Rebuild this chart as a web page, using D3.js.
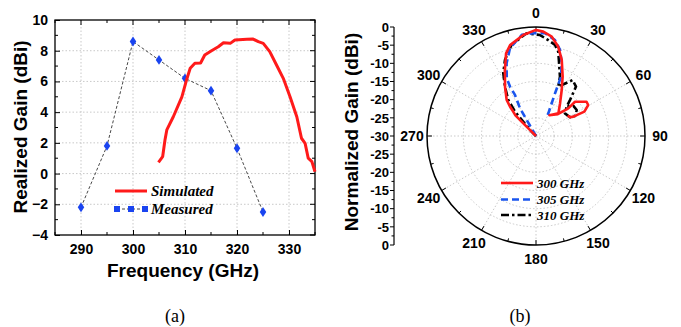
<!DOCTYPE html>
<html>
<head>
<meta charset="utf-8">
<script src="https://cdn.jsdelivr.net/npm/d3@7"></script>
<style>
  body { margin: 0; background: #fff; }
  svg { display: block; }
</style>
</head>
<body>
<div id="chart"></div>
<script>
// (a) realized gain vs frequency
const simFreq = [304.9, 305.7, 306.15, 306.5, 307.75, 309.4, 310.3, 311, 311.9, 313, 313.8, 315.1, 316.4, 317.4, 318.7, 319.6, 321.9, 323.1, 324.1, 325.05, 326.3, 327.6, 328.9, 330.2, 331.5, 332.4, 333.1, 333.7, 334.4, 335];
const simGain = [0.73, 1.1, 2.19, 2.84, 3.7, 5.0, 6.1, 6.86, 7.18, 7.2, 7.72, 8.0, 8.26, 8.52, 8.48, 8.7, 8.74, 8.76, 8.59, 8.48, 7.94, 7.07, 6.2, 5.0, 3.7, 2.3, 1.97, 1.0, 0.78, 0.12];
const measFreq = [290, 295, 300, 305, 310, 315, 320, 325];
const measGain = [-2.2, 1.8, 8.6, 7.4, 6.2, 5.4, 1.65, -2.5];
const freqTicks = [290, 300, 310, 320, 330];
const gainTicks = [-4, -2, 0, 2, 4, 6, 8, 10];

// (b) normalized radiation patterns, angle in degrees, gain in dB
const ang300 = [-45, -45, -45, -45, -43, -41.8, -39.1, -32.2, -25.2, -19.9, -15.9, -7.2, 0, 4, 9, 14, 18.7, 24.2, 29.2, 36.3, 44.5, 33, 45, 49.4, 48.7, 55.9, 59.3, 63.3, 62.6, 61.2, 57];
const gain300 = [-30, -27.7, -24.1, -22, -20.8, -19.5, -17.2, -14, -9.9, -5.8, -4.0, -2.0, -0.8, -1.2, -2.3, -4.7, -7.9, -12.1, -15.5, -18.8, -21.2, -23.2, -21.5, -18.3, -15.7, -13.2, -13.3, -15.1, -18.4, -19.3, -19.6];
const ang305 = [-30, -30, -30.2, -30, -27.1, -27.8, -26.9, -22, -16.5, -8, -1.5, 5, 11.2, 15.6, 19.5, 22.9, 24, 25.6, 28.5, 29];
const gain305 = [-30, -28.6, -24.9, -21.2, -17.3, -14.7, -12.2, -8.4, -4.8, -1.9, -1.7, -1.6, -3.1, -5.4, -8.8, -12.3, -17.1, -20, -22.9, -23.9];
const ang310 = [-45, -45, -41.6, -40.8, -37.6, -32.2, -27.5, -22.2, -15, -5.2, 2.3, 7.3, 11.8, 14.8, 17.6, 22, 24.3, 33.2, 39, 43.4, 46.3, 52, 61.2, 62.9, 57.4, 51.2, 46.3];
const gain310 = [-30, -28.3, -24.7, -21.2, -17.5, -14, -10.5, -7.4, -4.0, -1.6, -2.2, -3.4, -4.4, -6, -9, -12.4, -15.1, -11.6, -12.5, -16.4, -18.3, -19.9, -19.3, -17.9, -16.7, -16.8, -18.3];
const angleLabels = [0, 30, 60, 90, 120, 150, 180, 210, 240, 270, 300, 330];
const radialTicks = [0, -5, -10, -15, -20, -25, -30];

const W = 681, H = 327;
const svg = d3.select('#chart').append('svg').attr('width', W).attr('height', H);
const sans = 'Liberation Sans, Arial, sans-serif';
const serif = 'Liberation Serif, Times New Roman, serif';

// ---------- left panel ----------
const x = d3.scaleLinear().domain([285, 335]).range([55, 315]);
const y = d3.scaleLinear().domain([-4, 10]).range([235, 20]);
const left = svg.append('g');

// grid
left.append('g').selectAll('line').data(freqTicks).join('line')
  .attr('x1', d => x(d)).attr('x2', d => x(d)).attr('y1', y(10)).attr('y2', y(-4))
  .attr('stroke', '#bbb').attr('stroke-width', 0.8).attr('stroke-dasharray', '1.5,2');
left.append('g').selectAll('line').data(gainTicks.slice(1, -1)).join('line')
  .attr('x1', x(285)).attr('x2', x(335)).attr('y1', d => y(d)).attr('y2', d => y(d))
  .attr('stroke', '#bbb').attr('stroke-width', 0.8).attr('stroke-dasharray', '1.5,2');

// axes (ticks inward)
const xAxis = d3.axisBottom(x).tickValues(freqTicks).tickSize(-5).tickPadding(9).tickFormat(d3.format('d'));
const gx = left.append('g').attr('transform', `translate(0,${y(-4)})`).call(xAxis);
const xMinor = d3.range(285, 336, 5).filter(d => d % 10 !== 0);
gx.append('g').selectAll('line').data(xMinor).join('line')
  .attr('x1', d => x(d)).attr('x2', d => x(d)).attr('y1', 0).attr('y2', -3).attr('stroke', '#000');
const yAxis = d3.axisLeft(y).tickValues(gainTicks).tickSize(-5).tickPadding(7);
const gy = left.append('g').attr('transform', `translate(${x(285)},0)`).call(yAxis);
const yMinor = d3.range(-3, 10, 2);
gy.append('g').selectAll('line').data(yMinor).join('line')
  .attr('x1', 0).attr('x2', 3).attr('y1', d => y(d)).attr('y2', d => y(d)).attr('stroke', '#000');
[gx, gy].forEach(g => {
  g.select('.domain').remove();
  g.selectAll('.tick line').attr('stroke', '#000').attr('stroke-width', 1);
  g.selectAll('text').attr('font-family', sans).attr('font-weight', 'bold').attr('font-size', 14).attr('fill', '#000');
});
// mirrored ticks on top and right
const mir = left.append('g').attr('stroke', '#000').attr('stroke-width', 1);
mir.selectAll('line.tx').data(freqTicks.concat(xMinor)).join('line').attr('class', 'tx')
  .attr('x1', d => x(d)).attr('x2', d => x(d)).attr('y1', y(10)).attr('y2', d => y(10) + (d % 10 === 0 ? 5 : 3));
mir.selectAll('line.ty').data(gainTicks.concat(yMinor)).join('line').attr('class', 'ty')
  .attr('x1', x(335)).attr('x2', d => x(335) - (d % 2 === 0 ? 5 : 3)).attr('y1', d => y(d)).attr('y2', d => y(d));
left.append('rect').attr('x', x(285)).attr('y', y(10)).attr('width', x(335) - x(285)).attr('height', y(-4) - y(10))
  .attr('fill', 'none').attr('stroke', '#000').attr('stroke-width', 1.3);

// measured
const mLine = d3.line().x(i => x(measFreq[i])).y(i => y(measGain[i]));
left.append('path').attr('d', mLine(d3.range(measFreq.length)))
  .attr('fill', 'none').attr('stroke', '#333').attr('stroke-width', 0.9).attr('stroke-dasharray', '3,2');
left.append('g').selectAll('path').data(d3.range(measFreq.length)).join('path')
  .attr('d', d3.symbol().type(d3.symbolDiamond).size(28))
  .attr('transform', i => `translate(${x(measFreq[i])},${y(measGain[i])}) scale(1.15,1)`)
  .attr('fill', '#1a44f0');

// simulated
const sLine = d3.line().x(i => x(simFreq[i])).y(i => y(simGain[i])).curve(d3.curveLinear);
left.append('path').attr('d', sLine(d3.range(simFreq.length)))
  .attr('fill', 'none').attr('stroke', '#ff1a1a').attr('stroke-width', 3).attr('stroke-linejoin', 'round');

// legend
const lg = left.append('g');
lg.append('line').attr('x1', 115).attr('x2', 147).attr('y1', 191).attr('y2', 191).attr('stroke', '#ff1a1a').attr('stroke-width', 3);
lg.append('line').attr('x1', 117).attr('x2', 145).attr('y1', 209).attr('y2', 209).attr('stroke', '#333').attr('stroke-width', 0.9).attr('stroke-dasharray', '3,2');
lg.selectAll('rect').data([117, 131, 145]).join('rect')
  .attr('x', d => d - 3).attr('y', 206).attr('width', 6).attr('height', 6).attr('fill', '#1a44f0');
lg.selectAll('text').data([['Simulated', 191], ['Measured', 209]]).join('text')
  .attr('x', 151).attr('y', d => d[1]).attr('dy', '0.35em').text(d => d[0])
  .attr('font-family', serif).attr('font-style', 'italic').attr('font-weight', 'bold').attr('font-size', 15);

// axis titles
left.append('text').attr('x', 183).attr('y', 277).attr('text-anchor', 'middle').text('Frequency (GHz)')
  .attr('font-family', sans).attr('font-weight', 'bold').attr('font-size', 19);
left.append('text').attr('transform', 'translate(27,127) rotate(-90)').attr('text-anchor', 'middle').text('Realized Gain (dBi)')
  .attr('font-family', sans).attr('font-weight', 'bold').attr('font-size', 19);

// ---------- right panel (polar) ----------
const cx = 536, cy = 136, R = 109;
const r = d3.scaleLinear().domain([-30, 0]).range([0, R]);
const pol = svg.append('g').attr('transform', `translate(${cx},${cy})`);
const rad = a => a * Math.PI / 180;

pol.append('g').selectAll('circle').data([-25, -20, -15, -10, -5]).join('circle')
  .attr('r', d => r(d)).attr('fill', 'none').attr('stroke', '#bbb').attr('stroke-width', 0.8).attr('stroke-dasharray', '1.5,2');
pol.append('g').selectAll('line').data(angleLabels).join('line')
  .attr('x1', 0).attr('y1', 0)
  .attr('x2', d => R * Math.sin(rad(d))).attr('y2', d => -R * Math.cos(rad(d)))
  .attr('stroke', '#bbb').attr('stroke-width', 0.8).attr('stroke-dasharray', '1.5,2');
pol.append('circle').attr('r', R).attr('fill', 'none').attr('stroke', '#000').attr('stroke-width', 1.5);
pol.append('g').selectAll('line').data(d3.range(0, 360, 15)).join('line')
  .attr('x1', d => R * Math.sin(rad(d))).attr('y1', d => -R * Math.cos(rad(d)))
  .attr('x2', d => (R - (d % 30 === 0 ? 5 : 3)) * Math.sin(rad(d))).attr('y2', d => -(R - (d % 30 === 0 ? 5 : 3)) * Math.cos(rad(d)))
  .attr('stroke', '#000').attr('stroke-width', 1);
pol.append('g').selectAll('text').data(angleLabels).join('text')
  .attr('x', d => 124 * Math.sin(rad(d))).attr('y', d => -123 * Math.cos(rad(d)))
  .attr('dy', '0.36em').attr('text-anchor', 'middle').text(d => d)
  .attr('font-family', sans).attr('font-weight', 'bold').attr('font-size', 14);

// patterns
const radial = d3.lineRadial().curve(d3.curveLinear);
const series = [
  { a: ang300, g: gain300, color: '#ff1a1a', dash: null },
  { a: ang305, g: gain305, color: '#1a55ee', dash: '7,4' },
  { a: ang310, g: gain310, color: '#000', dash: '8,3,2.5,3' }
];
series.slice().reverse().forEach(s => {
  pol.append('path')
    .attr('d', radial(s.a.map((a, i) => [rad(a), r(s.g[i])])))
    .attr('fill', 'none').attr('stroke', s.color).attr('stroke-width', 2.6)
    .attr('stroke-linejoin', 'round').attr('stroke-dasharray', s.dash);
});

// radial axis on the left
const ry = d3.scaleLinear().domain([0, -30]).range([cy - R, cy]);
const ry2 = d3.scaleLinear().domain([-30, 0]).range([cy, cy + R]);
const rAx = svg.append('g').attr('transform', 'translate(394,0)');
rAx.append('line').attr('y1', cy - R).attr('y2', cy + R).attr('stroke', '#000').attr('stroke-width', 1.2);
const rTickData = radialTicks.map(v => ({ v, y: ry(v) })).concat(radialTicks.slice(0, -1).reverse().map(v => ({ v, y: ry2(v) })).reverse());
rAx.selectAll('line.t').data(d3.range(0, 2 * R + 0.1, R / 12)).join('line').attr('class', 't')
  .attr('x1', 0).attr('x2', (d, i) => i % 2 === 0 ? -4 : -2.5)
  .attr('y1', d => cy - R + d).attr('y2', d => cy - R + d).attr('stroke', '#000');
rAx.selectAll('text').data(rTickData).join('text')
  .attr('x', -5).attr('y', d => d.y).attr('dy', '0.36em').attr('text-anchor', 'end').text(d => d.v)
  .attr('font-family', sans).attr('font-weight', 'bold').attr('font-size', 13);
svg.append('text').attr('transform', 'translate(358,132) rotate(-90)').attr('text-anchor', 'middle').text('Normalized Gain (dBi)')
  .attr('font-family', sans).attr('font-weight', 'bold').attr('font-size', 19);

// polar legend
const pl = svg.append('g');
const plItems = [['300 GHz', 183], ['305 GHz', 199.5], ['310 GHz', 215]];
pl.selectAll('line').data(series).join('line')
  .attr('x1', 501).attr('x2', 533).attr('y1', (d, i) => plItems[i][1]).attr('y2', (d, i) => plItems[i][1])
  .attr('stroke', d => d.color).attr('stroke-width', 2.6).attr('stroke-dasharray', d => d.dash);
pl.selectAll('text').data(plItems).join('text')
  .attr('x', 537).attr('y', d => d[1]).attr('dy', '0.35em').text(d => d[0])
  .attr('font-family', serif).attr('font-style', 'italic').attr('font-weight', 'bold').attr('font-size', 13);

// captions
svg.selectAll('text.cap').data([['(a)', 175], ['(b)', 520]]).join('text').attr('class', 'cap')
  .attr('x', d => d[1]).attr('y', 322).attr('text-anchor', 'middle').text(d => d[0])
  .attr('font-family', serif).attr('font-size', 18);
</script>
</body>
</html>
